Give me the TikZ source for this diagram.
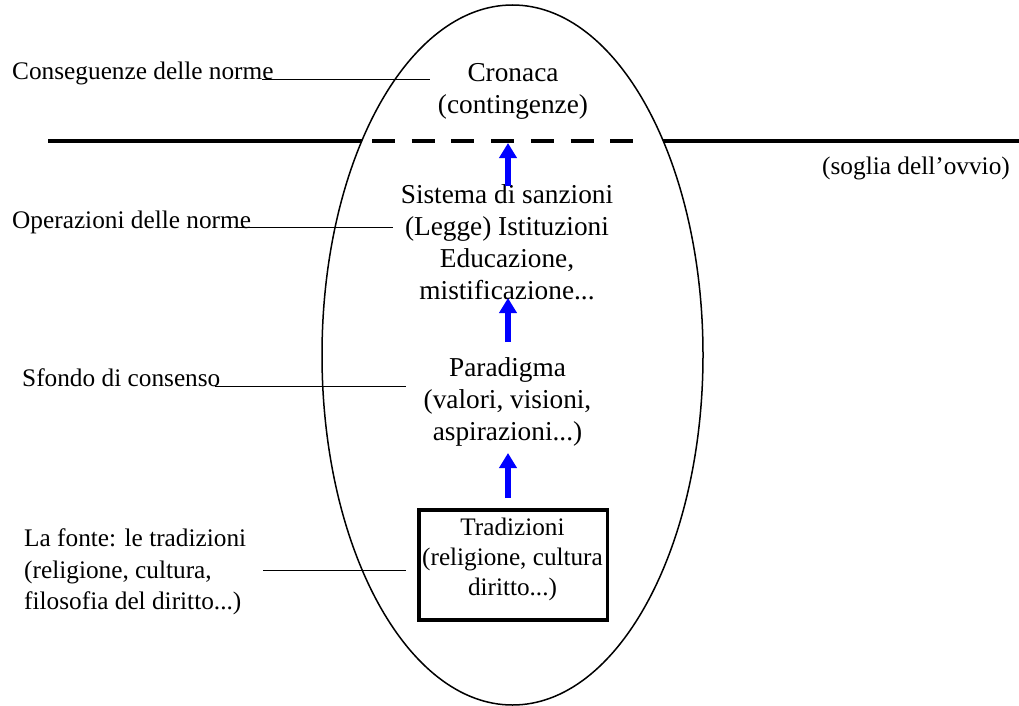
\documentclass[tikz,border=0pt]{standalone}
\usepackage{fontspec}
\setmainfont{Liberation Serif}
\usetikzlibrary{arrows.meta}
\begin{document}
\begin{tikzpicture}[x=1pt,y=-1pt,
  txt/.style={font=\fontsize{27.3}{32}\selectfont, align=center, inner sep=0pt},
  boxtxt/.style={font=\fontsize{25.2}{30}\selectfont, align=center, inner sep=0pt},
  lbl/.style={font=\fontsize{25.3}{31.5}\selectfont, align=left, inner sep=0pt},
  leader/.style={line width=1.3pt},
  barrow/.style={blue, line width=5.5pt, -{Triangle[width=17pt,length=15pt]}},
  thresh/.style={line width=4pt}]
\useasboundingbox (0,0) rectangle (1019,706);
% ellipse
\draw[line width=1.5pt] (512.5,355) ellipse [x radius=190.5, y radius=350];
% threshold line
\coordinate (t0) at (48,141);
\coordinate (t1) at (362,141);
\coordinate (t2) at (372,141);
\coordinate (t3) at (633,141);
\coordinate (t4) at (663,141);
\coordinate (t5) at (1019,141);
\draw[thresh] (t0) -- (t1);
\draw[thresh, dash pattern=on 23pt off 16.7pt] (t2) -- (t3);
\draw[thresh] (t4) -- (t5);
\node[lbl, anchor=base] (soglia) at (916,174) {(soglia dell'ovvio)};
% central texts
\node[txt] (cronaca) at (513,91.5) {Cronaca\\(contingenze)};
\node[txt] (sistema) at (507,242.5) {Sistema di sanzioni\\(Legge) Istituzioni\\Educazione,\\mistificazione...};
\node[txt] (paradigma) at (507.5,402) {Paradigma\\(valori, visioni,\\aspirazioni...)};
\node[draw, line width=3.5pt, minimum width=188.5pt, minimum height=110pt, inner sep=0pt] (box) at (513.3,565) {};
\node[boxtxt] (trad) at (512.5,559) {Tradizioni\\(religione, cultura\\diritto...)};
% arrows
\coordinate (a1s) at (508,186);
\coordinate (a1e) at (508,143);
\coordinate (a2s) at (508,342);
\coordinate (a2e) at (508,298);
\coordinate (a3s) at (508,498);
\coordinate (a3e) at (508,453);
\draw[barrow] (a1s) -- (a1e);
\draw[barrow] (a2s) -- (a2e);
\draw[barrow] (a3s) -- (a3e);
% left labels
\node[lbl, anchor=base west] (l1) at (12,79.5) {Conseguenze delle norme};
\node[lbl, anchor=base west] (l2) at (12,228) {Operazioni delle norme};
\node[lbl, anchor=base west] (l3) at (22,386) {Sfondo di consenso};
\node[lbl, anchor=west] (l4) at (24,572) {La fonte: le tradizioni\\(religione, cultura,\\filosofia del diritto...)};
% leaders
\coordinate (e1a) at (262,79.3);
\coordinate (e1b) at (430,79.3);
\coordinate (e2a) at (238,227.5);
\coordinate (e2b) at (393,227.5);
\coordinate (e3a) at (215,386.5);
\coordinate (e3b) at (406,386.5);
\coordinate (e4a) at (263,570.5);
\coordinate (e4b) at (406,570.5);
\draw[leader] (e1a) -- (e1b);
\draw[leader] (e2a) -- (e2b);
\draw[leader] (e3a) -- (e3b);
\draw[leader] (e4a) -- (e4b);
\end{tikzpicture}
\end{document}
